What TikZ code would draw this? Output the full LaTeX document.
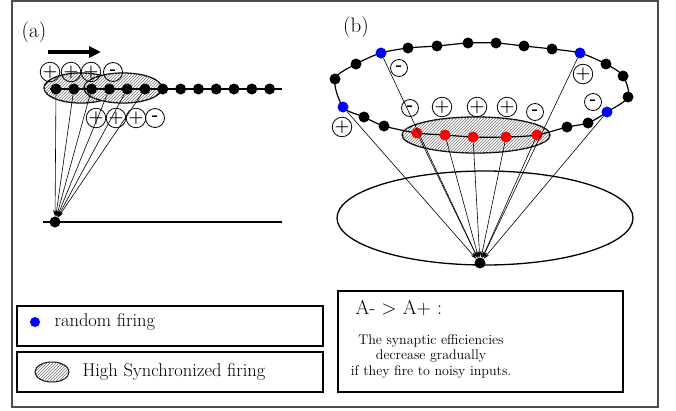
\documentclass[tikz,border=0pt]{standalone}
\usepackage{tikz}
\usetikzlibrary{patterns,arrows.meta}

\tikzset{
  dot/.style={circle,fill=black,inner sep=0pt,minimum size=11pt},
  sign/.style={circle,draw,line width=0.8pt,inner sep=0pt,minimum size=17pt,font=\fontsize{17}{17}\selectfont\bfseries},
  syn/.style={line width=0.6pt,-{Stealth[length=6pt,width=4pt]}},
  hatch/.style={draw,line width=1.3pt,fill=white,postaction={pattern=north east lines,pattern color=black!55}},
  box/.style={draw,line width=1.3pt,inner sep=0pt},
}

\begin{document}
\begin{tikzpicture}[x=1pt,y=-1pt]
  \useasboundingbox (0,0) rectangle (676,410);

  % Frame
  \draw[black!70,line width=1.2pt] (12,1) rectangle (658,407);

  % (a) moving window
  \node[font=\fontsize{21}{21}\selectfont] (la) at (34,32) {(a)};
  \coordinate (arrS) at (48,52);
  \coordinate (arrE) at (101,52);
  \draw[line width=4pt,-{Triangle[length=12pt,width=11pt]}] (arrS) -- (arrE);

  % Hatched windows
  \draw[hatch] (81,88) ellipse [x radius=37, y radius=15];
  \draw[hatch] (123,88) ellipse [x radius=39, y radius=15];

  % Input line
  \coordinate (inS) at (50,89);
  \coordinate (inE) at (282,89);
  \draw[line width=1.2pt] (inS) -- (inE);
  \foreach \i in {1,...,13}
    \node[dot] (a\i) at ({56+17.8*(\i-1)},89) {};

  % Output line
  \coordinate (outS) at (43,222);
  \coordinate (outE) at (282,222);
  \draw[line width=1.2pt] (outS) -- (outE);
  \node[dot] (outa) at (55,222) {};

  % Synapses
  \foreach \i in {1,...,6}
    \draw[syn] (a\i) -- (outa);

  % Signs
  \foreach \x/\s [count=\k] in {50/+,71/+,91/+,113/-}
    \node[sign,minimum size=19pt] (pa\k) at (\x,72) {\s};
  \foreach \x/\s [count=\k] in {96/+,116/+,136/+,155/-}
    \node[sign,minimum size=19pt] (qa\k) at (\x,118) {\s};

  % (b) ring
  \node[font=\fontsize{21}{21}\selectfont] (lb) at (356,27) {(b)};

  % Lower ellipse
  \draw[line width=1.3pt] (485,218) ellipse [x radius=148, y radius=47];

  % Hatched window
  \draw[hatch] (476,135) ellipse [x radius=74, y radius=18];

  \foreach \x/\y [count=\k] in {381/53,408/48,437/46,468/43,496/43,524/46,552/49,
      580/53,606/64,623/76,628/97,607/112,588/123,567/127,537/135,506/137,
      473/137,445/135,417/133,384/126,364/117,343/107,335/79,356/64}
    \coordinate (r\k) at (\x,\y);
  \draw[line width=1.2pt] plot[smooth cycle,tension=0.5] coordinates {(r1) (r2) (r3) (r4) (r5)
      (r6) (r7) (r8) (r9) (r10) (r11) (r12) (r13) (r14) (r15) (r16) (r17) (r18)
      (r19) (r20) (r21) (r22) (r23) (r24)};
  \foreach \k/\c in {1/blue,2/black,3/black,4/black,5/black,6/black,7/black,8/blue,
      9/black,10/black,11/black,12/blue,13/black,14/black,15/red,16/red,17/red,
      18/red,19/red,20/black,21/black,22/blue,23/black,24/black}
    \node[dot,fill=\c] (dr\k) at (r\k) {};

  \node[dot] (outb) at (480,263) {};
  \foreach \k in {1,8,12,22,15,16,17,18,19}
    \draw[syn] (dr\k) -- (outb);

  \foreach \x/\y/\s [count=\k] in {399/68/-,583/74/+,593/102/-,342/127/+,410/108/-,
      442/107/+,477/107/+,507/107/+,535/112/-}
    \node[sign] (sb\k) at (\x,\y) {\s};

  % Legend
  \node[box,minimum width=306pt,minimum height=40pt] (leg1) at (170,326) {};
  \node[box,minimum width=306pt,minimum height=40pt] (leg2) at (170,372) {};
  \node[dot,fill=blue,minimum size=10pt] (legdot) at (35,322) {};
  \node[anchor=west,font=\fontsize{18.5}{18.5}\selectfont] (legt1) at (51,322) {random firing};
  \draw[hatch,line width=1pt] (52,372) ellipse [x radius=17, y radius=10];
  \node[anchor=west,font=\fontsize{18.5}{18.5}\selectfont] (legt2) at (79,372) {High Synchronized firing};

  % Note
  \node[box,minimum width=285pt,minimum height=101pt] (note) at (480.5,341.5) {};
  \node[anchor=west,font=\fontsize{20}{20}\selectfont] (rule) at (352,308) {A- > A+ :};
  \node[align=center,font=\fontsize{14}{15.5}\selectfont] (expl) at (431,356)
    {The synaptic efficiencies\\decrease gradually\\if they fire to noisy inputs.};

\end{tikzpicture}
\end{document}
